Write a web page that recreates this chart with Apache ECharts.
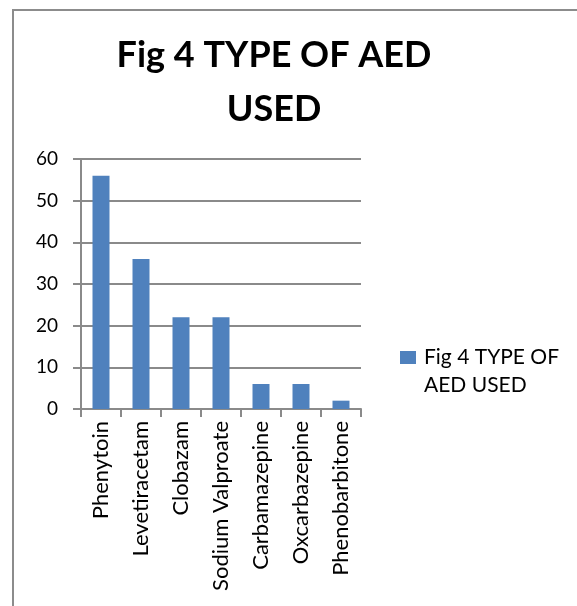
<!DOCTYPE html>
<html>
<head>
<meta charset="utf-8">
<script src="https://cdn.jsdelivr.net/npm/echarts@6/dist/echarts.min.js"></script>
<style>
  html, body { margin: 0; padding: 0; background: #fff; overflow: hidden; }
  #chart { position: absolute; left: 0; top: 0; width: 577px; height: 606px; }
  #frame { position: absolute; left: 12px; top: 9px; width: 700px; height: 700px;
           border-left: 2px solid #8c8c8c; border-top: 2px solid #8c8c8c; pointer-events: none; }
</style>
</head>
<body>
<div id="chart"></div>
<div id="frame"></div>
<script>
// Anti-epileptic drugs and how many patients used each
const categories = ['Phenytoin', 'Levetiracetam', 'Clobazam', 'Sodium Valproate',
                    'Carbamazepine', 'Oxcarbazepine', 'Phenobarbitone'];
const counts = [56, 36, 22, 22, 6, 6, 2];
const seriesName = 'Fig 4 TYPE OF AED USED';
const yTicks = { min: 0, max: 60, interval: 10 };

const BAR_COLOR = '#4F81BD';
const LINE_COLOR = '#8a8a8a';
const FONT = 'Lato, "Open Sans", sans-serif';

const chart = echarts.init(document.getElementById('chart'), null, { renderer: 'canvas' });

chart.setOption({
  animation: false,
  backgroundColor: '#fff',
  title: {
    text: 'Fig 4 TYPE OF AED\nUSED',
    left: 269,
    top: 23,
    textAlign: 'center',
    textStyle: {
      fontFamily: FONT,
      fontWeight: 'bold',
      fontSize: 36,
      lineHeight: 54,
      color: '#000'
    }
  },
  legend: {
    left: 390,
    top: 342,
    orient: 'vertical',
    itemWidth: 0,
    itemHeight: 0,
    itemStyle: { opacity: 0 },
    selectedMode: false,
    data: [seriesName],
    formatter: function (name) {
      // two-line legend entry, swatch beside the first line only
      const words = name.split(' ');
      const first = words.slice(0, 4).join(' ');
      const rest = words.slice(4).join(' ');
      return '{m|}{t|' + first + '}\n{s|}{t|' + rest + '}';
    },
    textStyle: {
      rich: {
        m: { width: 16, height: 13, backgroundColor: BAR_COLOR },
        s: { width: 16, height: 13 },
        t: { fontFamily: FONT, fontSize: 21, color: '#000', lineHeight: 28, padding: [0, 0, 0, 8] }
      }
    }
  },
  grid: {
    left: 81,
    right: 216,
    top: 159,
    bottom: 197,
    containLabel: false
  },
  xAxis: {
    type: 'category',
    data: categories,
    axisLine: { show: true, lineStyle: { color: LINE_COLOR, width: 2 } },
    axisTick: { show: true, length: 8, lineStyle: { color: LINE_COLOR, width: 2 } },
    axisLabel: {
      rotate: 90,
      margin: 12,
      interval: 0,
      fontFamily: FONT,
      fontSize: 22,
      color: '#000'
    }
  },
  yAxis: {
    type: 'value',
    min: yTicks.min,
    max: yTicks.max,
    interval: yTicks.interval,
    axisLine: { show: true, lineStyle: { color: LINE_COLOR, width: 2 } },
    axisTick: { show: true, length: 8, lineStyle: { color: LINE_COLOR, width: 2 } },
    splitLine: { show: true, lineStyle: { color: LINE_COLOR, width: 2 } },
    axisLabel: {
      margin: 23,
      fontFamily: FONT,
      fontSize: 19,
      color: '#000'
    }
  },
  series: [{
    name: seriesName,
    type: 'bar',
    data: counts,
    barWidth: 17,
    itemStyle: { color: BAR_COLOR }
  }]
});
</script>
</body>
</html>
